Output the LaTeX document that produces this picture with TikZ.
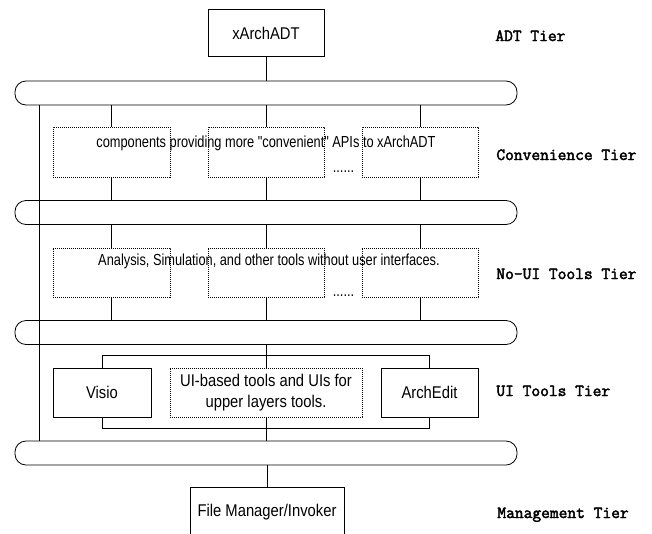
\documentclass[tikz,border=0pt]{standalone}
\usepackage{fontspec}
\setmainfont{Liberation Sans}[FakeStretch=0.87]
\newfontfamily\descfont{Liberation Sans}[FakeStretch=0.8]
\newfontfamily\tierfont{Latin Modern Mono}[FakeBold=2.5]
\usetikzlibrary{positioning}

\begin{document}
\begin{tikzpicture}[
    x=1pt, y=-1pt,
    line width=0.8pt,
    box/.style={draw, fill=white, inner sep=0pt, align=center,
                font=\fontsize{17}{21}\selectfont},
    dbox/.style={draw, dash pattern=on 1.2pt off 0.8pt, line width=0.6pt,
                 inner sep=0pt},
    bus/.style={draw, rounded corners=11pt, minimum width=502pt,
                minimum height=24pt, inner sep=0pt},
    tier/.style={anchor=base west, inner sep=0pt,
                 font=\tierfont\fontsize{17}{20}\selectfont},
    desc/.style={anchor=base, inner sep=0pt,
                 font=\descfont\fontsize{16}{19}\selectfont},
    link/.style={draw},
]
\useasboundingbox (0,0) rectangle (652,533);

% ADT tier
\node[box, minimum width=116pt, minimum height=47pt] (adt) at (266,33) {xArchADT};
\node[tier] (adtlbl) at (495,41) {ADT Tier};

% buses
\node[bus] (bus1) at (266,93) {};
\node[bus] (bus2) at (266,212.5) {};
\node[bus] (bus3) at (266,332.5) {};
\node[bus] (bus4) at (266,453) {};

% Convenience tier
\node[dbox, minimum width=117pt, minimum height=50pt] (conv1) at (111.5,152) {};
\node[dbox, minimum width=116pt, minimum height=50pt] (conv2) at (266,152) {};
\node[dbox, minimum width=116pt, minimum height=50pt] (conv3) at (420,152) {};
\node[desc] (convtext) at (266,147) {components providing more "convenient" APIs to xArchADT};
\node[desc] (convdots) at (343.5,172) {......};
\node[tier] (convlbl) at (496,160) {Convenience Tier};

% No-UI tools tier
\node[dbox, minimum width=117pt, minimum height=49pt] (noui1) at (111.5,272.5) {};
\node[dbox, minimum width=116pt, minimum height=49pt] (noui2) at (266,272.5) {};
\node[dbox, minimum width=116pt, minimum height=49pt] (noui3) at (420,272.5) {};
\node[desc] (nouitext) at (269,265) {Analysis, Simulation, and other tools without user interfaces.};
\node[desc] (nouidots) at (343.5,296) {......};
\node[tier] (nouilbl) at (496,279) {No-UI Tools Tier};

% UI tools tier
\node[box, minimum width=98pt, minimum height=49pt] (visio) at (102,392.5) {Visio};
\node[box, dbox, minimum width=192pt, minimum height=49pt] (uimid) at (266,392.5)
    {UI-based tools and UIs for\\upper layers tools.};
\node[box, minimum width=97pt, minimum height=49pt] (archedit) at (429.5,392.5) {ArchEdit};
\node[tier] (uilbl) at (496,396) {UI Tools Tier};

% Management tier
\node[box, minimum width=154pt, minimum height=50pt] (filemgr) at (267,512) {File Manager/Invoker};
\node[tier] (mgmtlbl) at (497,518) {Management Tier};

% connectors
\draw[link] (adt) -- (adt |- bus1.north);
\foreach \t in {conv1,conv2,conv3} {
    \draw[link] (\t.north) -- (\t.north |- bus1.south);
    \draw[link] (\t.south) -- (\t.south |- bus2.north);
}
\foreach \t in {noui1,noui2,noui3} {
    \draw[link] (\t.north) -- (\t.north |- bus2.south);
    \draw[link] (\t.south) -- (\t.south |- bus3.north);
}
\draw[link] (uimid.north) -- (uimid.north |- bus3.south);
\draw[link] (uimid.south) -- (uimid.south |- bus4.north);
\draw[link] (visio.north) -- ++(0,-12) -| (archedit.north);
\draw[link] (visio.south) -- ++(0,11) -| (archedit.south);
\draw[link] ([xshift=25pt]bus1.south west) -- ([xshift=25pt]bus4.north west);
\draw[link] (filemgr.north) -- (filemgr.north |- bus4.south);
\end{tikzpicture}
\end{document}
